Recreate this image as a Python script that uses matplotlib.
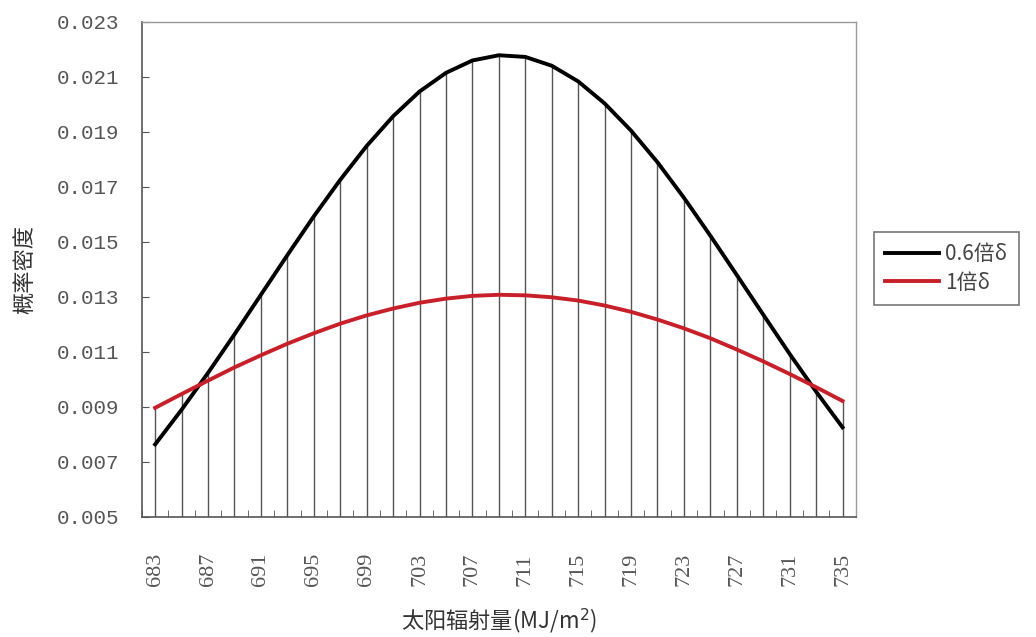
import numpy as np
import matplotlib
matplotlib.use("Agg")
import matplotlib.pyplot as plt
from matplotlib.ticker import FixedLocator, FixedFormatter

plt.rcParams['font.family'] = ['Noto Sans CJK SC', 'DejaVu Sans']

# radiation categories (MJ/m2)
radiation = list(range(683, 737, 2))

# probability density, 0.6 x sigma
dens_06 = [0.00764, 0.00890, 0.01024, 0.01164, 0.01308, 0.01452, 0.01593,
           0.01726, 0.01849, 0.01957, 0.02047, 0.02115, 0.02160, 0.02179,
           0.02173, 0.02141, 0.02084, 0.02004, 0.01905, 0.01790, 0.01661,
           0.01523, 0.01380, 0.01236, 0.01093, 0.00956, 0.00826]

# probability density, 1 x sigma
dens_10 = [0.00897, 0.00947, 0.00996, 0.01044, 0.01088, 0.01130, 0.01168,
           0.01203, 0.01233, 0.01258, 0.01279, 0.01294, 0.01304, 0.01308,
           0.01306, 0.01299, 0.01287, 0.01269, 0.01246, 0.01218, 0.01186,
           0.01150, 0.01109, 0.01066, 0.01020, 0.00972, 0.00922]

y_ticks = [0.005, 0.007, 0.009, 0.011, 0.013, 0.015, 0.017, 0.019, 0.021, 0.023]

fig = plt.figure(figsize=(10.36, 6.37), dpi=100)
ax = fig.add_axes([0.137, 0.1884, 0.689, 0.7771])

idx = np.arange(len(radiation))

# drop lines down to the axis from the higher of the two series
tops = np.maximum(dens_06, dens_10)
ax.vlines(idx, 0.005, tops, color='#555555', linewidth=1.0, zorder=1)

ax.plot(idx, dens_06, color='black', linewidth=2.8, label='0.6倍δ', zorder=3)
ax.plot(idx, dens_10, color='#c8202a', linewidth=2.8, label='1倍δ', zorder=3)

ax.set_xlim(-0.5, len(radiation) - 0.5)
ax.set_ylim(0.005, 0.023)

ax.set_yticks(y_ticks)
ax.set_yticklabels([f'{v:.3f}' for v in y_ticks], family=['Liberation Mono'],
                   fontsize=15, color='#555555')
ax.tick_params(axis='y', direction='in', length=5, pad=16, color='#555555')

# labels every other category, tick marks between categories
ax.xaxis.set_major_locator(FixedLocator(idx[::2]))
ax.xaxis.set_major_formatter(FixedFormatter([str(r) for r in radiation[::2]]))
ax.tick_params(axis='x', which='major', length=0, pad=26, labelsize=16,
               labelcolor='#555555', labelrotation=90)
for lbl in ax.get_xticklabels():
    lbl.set_family(['Liberation Serif'])
ax.xaxis.set_minor_locator(FixedLocator(np.arange(-0.5, len(radiation), 1.0)))
ax.tick_params(axis='x', which='minor', direction='in', length=5, color='#555555')

for side in ['left', 'bottom']:
    ax.spines[side].set_color('#555555')
    ax.spines[side].set_linewidth(1.2)
for side in ['top', 'right']:
    ax.spines[side].set_color('#999999')
    ax.spines[side].set_linewidth(1.0)

ax.set_ylabel('概率密度', fontsize=16, color='#333333')
ax.yaxis.set_label_coords(-0.148, 0.5)
ax.set_xlabel('太阳辐射量(MJ/m$^2$)', fontsize=16, color='#333333')
ax.xaxis.set_label_coords(0.5, -0.18)

leg = ax.legend(loc='center left', bbox_to_anchor=(1.025, 0.502), fontsize=15,
                frameon=True, fancybox=False, edgecolor='#555555',
                handlelength=2.6, handletextpad=0.3, borderpad=0.55,
                labelspacing=0.3, borderaxespad=0)
leg.get_frame().set_linewidth(1.2)
for t in leg.get_texts():
    t.set_color('#444444')

fig.savefig('out.png', dpi=100, facecolor='white')
